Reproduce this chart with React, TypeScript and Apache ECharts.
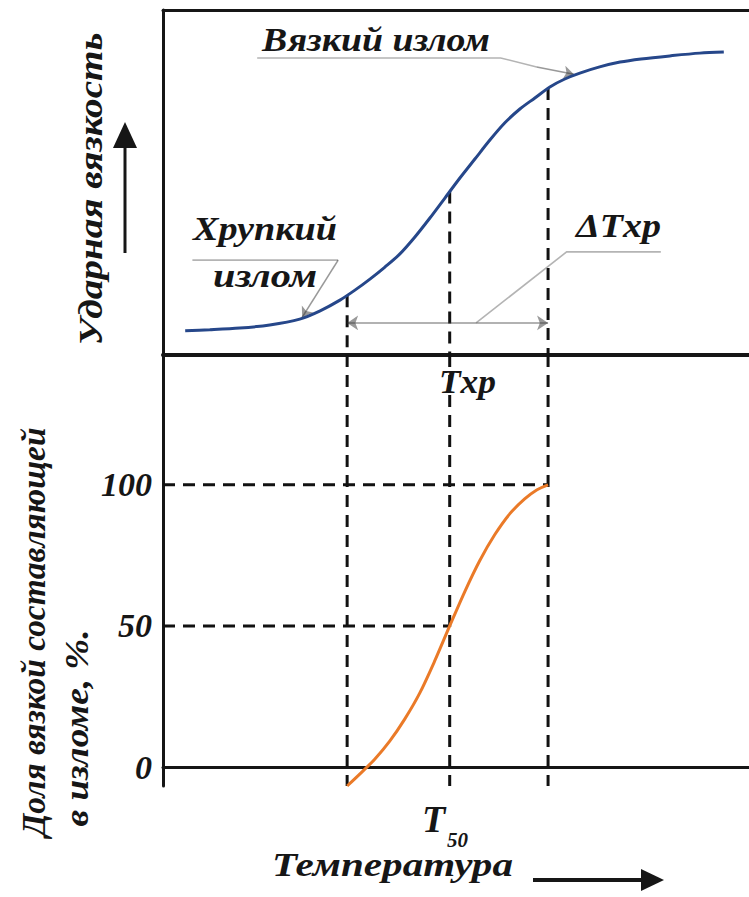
import React, { useEffect, useRef } from "react";
import * as echarts from "echarts";

// Temperature axis (arbitrary units)
const tempMin = 0;
const tempMax = 97.7;

// Impact toughness curve (top panel)
const impactTemps = [3.7, 7.8, 12.8, 17.8, 22.8, 26.2, 29.5, 32.0, 34.5, 37.0, 39.5, 42.0, 44.5, 47.0, 49.5, 52.0, 54.5, 57.0, 59.5, 62.0, 64.5, 67.0, 69.5, 72.8, 76.2, 79.7, 84.5, 89.5, 93.5];
const impactValues = [7.0, 7.3, 7.8, 8.7, 10.4, 12.8, 15.9, 18.8, 22.0, 25.5, 29.3, 34.2, 39.7, 45.5, 51.3, 56.8, 62.3, 67.3, 71.3, 74.5, 77.7, 80.0, 81.7, 83.5, 84.9, 85.8, 86.7, 87.5, 87.8];

// Ductile share in fracture, % (bottom panel)
const ductileTemps = [30.7, 32.8, 35.3, 37.8, 40.3, 42.8, 45.3, 47.8, 50.3, 52.8, 55.3, 57.8, 60.3, 62.3, 64.2];
const ductileShare = [-6.7, -2.5, 2.8, 9.2, 17.0, 26.2, 37.6, 50.0, 62.1, 73.1, 82.3, 89.7, 95.0, 98.2, 100];
const shareTicks = [0, 50, 100];

// Marker temperatures: start of transition, Txp = T50, end of transition
const markerTemps = [30.7, 47.8, 64.2];
const markerImpact = [17.3, 47.4, 77.4];
const markerShare = [-6.7, 50, 100];

const SERIF = "'Liberation Serif', 'Times New Roman', serif";
const INK = "#161616";
const dash = { type: [12, 8] as any, width: 3, color: "#111" };
const leader = { color: "#6a6a6a", width: 1.6 };

function measure(text: string, font: string) {
  const c = document.createElement("canvas").getContext("2d")!;
  c.font = font;
  return c.measureText(text).width;
}

export default function App() {
  const ref = useRef<HTMLDivElement>(null);
  useEffect(() => {
    document.body.style.margin = "0";
    const chart = echarts.init(ref.current!, undefined, { renderer: "svg" });
    const yMin2 = -6.7;
    const yMax2 = 146;
    const series: any[] = [];

    series.push({
      type: "line",
      xAxisIndex: 0,
      yAxisIndex: 0,
      data: impactTemps.map((t, i) => [t, impactValues[i]]),
      smooth: 0.3,
      symbol: "none",
      lineStyle: { color: "#26478a", width: 3 },
      z: 5,
    });
    series.push({
      type: "line",
      xAxisIndex: 2,
      yAxisIndex: 1,
      data: ductileTemps.map((t, i) => [t, ductileShare[i]]),
      smooth: 0.3,
      symbol: "none",
      lineStyle: { color: "#ea7a28", width: 3 },
      z: 5,
    });
    markerTemps.forEach((t, i) => {
      series.push({
        type: "line",
        xAxisIndex: 0,
        yAxisIndex: 0,
        data: [
          [t, markerImpact[i]],
          [t, 0],
        ],
        symbol: "none",
        lineStyle: dash,
        z: 3,
      });
      series.push({
        type: "line",
        xAxisIndex: 2,
        yAxisIndex: 1,
        data: [
          [t, yMax2],
          [t, yMin2],
        ],
        symbol: "none",
        lineStyle: dash,
        z: 3,
      });
    });
    [2, 1].forEach((i) => {
      series.push({
        type: "line",
        xAxisIndex: 2,
        yAxisIndex: 1,
        data: [
          [0, markerShare[i]],
          [markerTemps[i], markerShare[i]],
        ],
        symbol: "none",
        lineStyle: dash,
        z: 3,
      });
    });
    // ΔTxp double arrow
    series.push({
      type: "lines",
      coordinateSystem: "cartesian2d",
      xAxisIndex: 0,
      yAxisIndex: 0,
      symbol: ["arrow", "arrow"],
      symbolSize: 11,
      lineStyle: { color: "#333", width: 1.6 },
      data: [{ coords: [[markerTemps[0], 9.3], [markerTemps[2], 9.3]] }],
      z: 4,
    });
    // leader polylines (no arrows)
    series.push({
      type: "lines",
      coordinateSystem: "cartesian2d",
      xAxisIndex: 0,
      yAxisIndex: 0,
      polyline: true,
      lineStyle: leader,
      data: [
        { coords: [[4.9, 27.5], [29.2, 27.5]] },
        { coords: [[15.7, 86.1], [56.3, 86.1], [62.3, 83.5]] },
        { coords: [[83.0, 29.9], [67.3, 29.9], [52.2, 9.3]] },
      ],
      z: 4,
    });
    // leader end segments with arrows pointing to the curve
    series.push({
      type: "lines",
      coordinateSystem: "cartesian2d",
      xAxisIndex: 0,
      yAxisIndex: 0,
      symbol: ["none", "arrow"],
      symbolSize: 10,
      lineStyle: { color: "#333", width: 1.6 },
      data: [
        { coords: [[29.2, 27.5], [23.2, 10.9]] },
        { coords: [[62.3, 83.5], [68.5, 81.4]] },
      ],
      z: 4,
    });

    const font = (size: number) => `italic bold ${size}px ${SERIF}`;
    const txt = (text: string, x: number, y: number, size: number, width?: number) => ({
      type: "text",
      x,
      y,
      scaleX: width ? width / measure(text, font(size)) : 1,
      style: { text, font: font(size), fill: INK, verticalAlign: "middle" },
      z: 10,
    });
    const vtxt = (text: string, x: number, y: number, size: number, length: number) => ({
      type: "text",
      x,
      y,
      rotation: Math.PI / 2,
      scaleX: length / measure(text, font(size)),
      style: { text, font: font(size), fill: INK, align: "center", verticalAlign: "middle" },
      z: 10,
    });

    const hiddenX = { type: "value", min: tempMin, max: tempMax, axisTick: { show: false }, axisLabel: { show: false }, splitLine: { show: false } };

    chart.setOption({
      animation: false,
      backgroundColor: "#fff",
      grid: [
        { left: 163, top: 10, right: 0, height: 345 },
        { left: 163, top: 355, right: 0, height: 431 },
      ],
      xAxis: [
        { ...hiddenX, gridIndex: 0, position: "bottom", axisLine: { show: true, lineStyle: { color: INK, width: 4 } } },
        { ...hiddenX, gridIndex: 0, position: "top", axisLine: { show: true, lineStyle: { color: INK, width: 3 } } },
        { ...hiddenX, gridIndex: 1, position: "bottom", axisLine: { show: true, lineStyle: { color: INK, width: 3 } } },
      ],
      yAxis: [
        {
          type: "value",
          gridIndex: 0,
          min: 0,
          max: 100,
          axisLine: { show: true, lineStyle: { color: INK, width: 3 } },
          axisTick: { show: false },
          axisLabel: { show: false },
          splitLine: { show: false },
        },
        {
          type: "value",
          gridIndex: 1,
          min: yMin2,
          max: yMax2,
          axisLine: { show: true, lineStyle: { color: INK, width: 3 } },
          axisTick: { show: false },
          splitLine: { show: false },
          axisLabel: {
            customValues: shareTicks,
            fontFamily: SERIF,
            fontStyle: "italic",
            fontWeight: "bold",
            fontSize: 34,
            color: INK,
            margin: 11,
          },
        },
      ],
      series,
      graphic: [
        txt("Вязкий излом", 262, 40, 34, 228),
        txt("Хрупкий", 193, 229, 34, 144),
        txt("излом", 213, 276, 34, 104),
        txt("ΔTxp", 576, 226, 34, 85),
        txt("Txp", 439, 382, 34, 57),
        txt("T", 422, 819, 38),
        txt("50", 447, 840, 21),
        txt("Температура", 272, 864, 34, 241),
        vtxt("Ударная вязкость", 90, 189, 34, 313),
        vtxt("Доля вязкой составляющей", 33, 632, 34, 409),
        vtxt("в изломе, %.", 77, 728, 34, 197),
        { type: "line", shape: { x1: 125, y1: 253, x2: 125, y2: 140 }, style: { stroke: INK, lineWidth: 3 } },
        { type: "polygon", shape: { points: [[125, 122], [113, 148], [137, 148]] }, style: { fill: INK } },
        { type: "line", shape: { x1: 533, y1: 880, x2: 645, y2: 880 }, style: { stroke: INK, lineWidth: 4 } },
        { type: "polygon", shape: { points: [[664, 880], [641, 869], [641, 891]] }, style: { fill: INK } },
      ],
    });
    return () => chart.dispose();
  }, []);
  return <div ref={ref} style={{ width: 749, height: 897 }} />;
}
